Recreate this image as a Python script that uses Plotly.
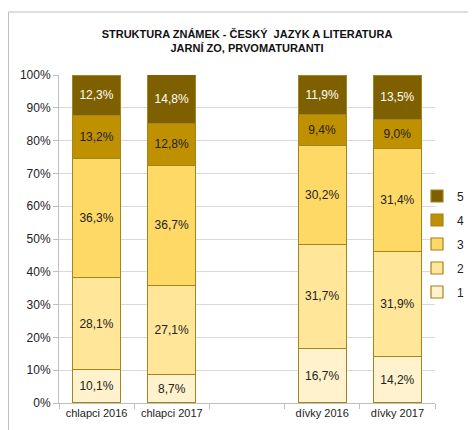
import plotly.graph_objects as go

categories = ["chlapci 2016", "chlapci 2017", " ", "dívky 2016", "dívky 2017"]
grades = ["1", "2", "3", "4", "5"]
values = {
    "1": [10.1, 8.7, None, 16.7, 14.2],
    "2": [28.1, 27.1, None, 31.7, 31.9],
    "3": [36.3, 36.7, None, 30.2, 31.4],
    "4": [13.2, 12.8, None, 9.4, 9.0],
    "5": [12.3, 14.8, None, 11.9, 13.5],
}
colors = {"1": "#FFF2CC", "2": "#FFE699", "3": "#FFD966", "4": "#BF9000", "5": "#7F6000"}
text_colors = {"1": "#222222", "2": "#222222", "3": "#222222", "4": "#222222", "5": "#FFFFFF"}

FONT = "Liberation Sans, Arial, sans-serif"

# page is offset by the 8px body margin; plot area (page) x 59..435, y 75..403
W, H = 468, 422
L, T = 51, 67
PW, PH = 376, 328

fig = go.Figure()
for g in grades:
    v = values[g]
    txt = [("" if x is None else f"{x:.1f}%".replace(".", ",")) for x in v]
    fig.add_trace(go.Bar(
        name=g, x=categories, y=v, text=txt, legendgroup=g,
        legendrank=1000 - int(g),
        textposition="inside", insidetextanchor="middle", textangle=0,
        textfont=dict(color=text_colors[g], size=12, family=FONT),
        marker=dict(color=colors[g], line=dict(color="#A3841E", width=1.2)),
        hoverinfo="skip",
    ))

fig.update_layout(
    barmode="stack", bargap=0.36,
    width=W, height=H,
    margin=dict(l=L, r=W - L - PW, t=T, b=H - T - PH, autoexpand=False),
    paper_bgcolor="white", plot_bgcolor="white",
    font=dict(family=FONT, size=12, color="#222222"),
    title=dict(
        text="<b>STRUKTURA ZNÁMEK - ČESKÝ  JAZYK A LITERATURA<br>JARNÍ ZO, PRVOMATURANTI</b>",
        x=(247 - 59) / PW, xanchor="center", xref="paper",
        y=1 - 29.5 / H, yanchor="middle",
        font=dict(size=11, family=FONT, color="#111111"),
    ),
    legend=dict(
        xref="container", x=1.0 - 7 / W, xanchor="right",
        y=(403 - 244) / PH, yanchor="middle",
        traceorder="grouped", font=dict(size=12, family=FONT),
        itemwidth=30, tracegroupgap=5, bgcolor="rgba(0,0,0,0)",
    ),
    showlegend=True,
    shapes=[dict(type="rect", xref="paper", yref="paper",
                 x0=(8.5 - 59) / PW, x1=2, y0=-1, y1=(403 - 12) / PH,
                 line=dict(color="#BFBFBF", width=1), fillcolor="rgba(0,0,0,0)", layer="below")],
)
fig.update_xaxes(
    type="category", showline=True, linecolor="#BFBFBF", linewidth=1,
    ticks="outside", tickson="boundaries", ticklen=5, tickcolor="#BFBFBF",
    tickangle=0, automargin=False,
    showgrid=False, tickfont=dict(size=11, family=FONT, color="#222222"),
)
fig.update_yaxes(
    range=[0, 100], dtick=10, ticksuffix="%", automargin=False,
    showline=True, linecolor="#BFBFBF", linewidth=1,
    ticks="outside", ticklen=5, tickcolor="#BFBFBF",
    showgrid=True, gridcolor="#D9D9D9", gridwidth=1,
    tickfont=dict(size=12, family=FONT, color="#222222"),
    zeroline=False,
)

fig.write_html("out.html")
